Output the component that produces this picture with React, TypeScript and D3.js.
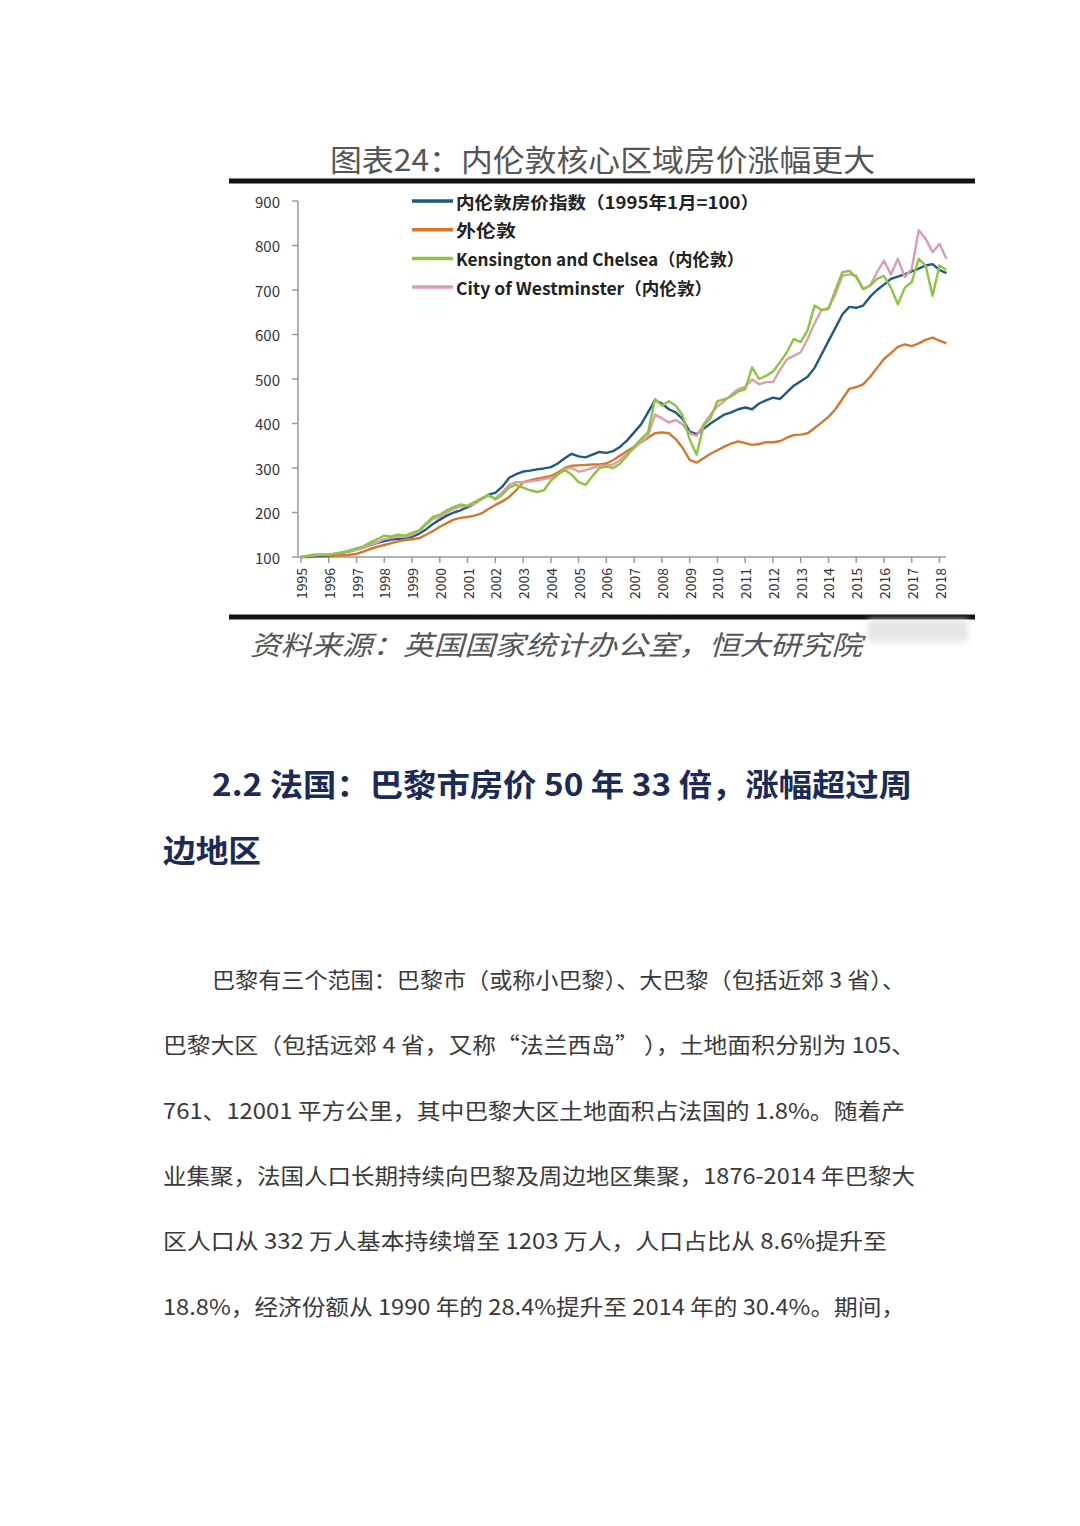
import React from "react";
import * as d3 from "d3";

// ---------- DATA ----------
const years = d3.range(1995, 2019);
const yTicks = [100, 200, 300, 400, 500, 600, 700, 800, 900];
const quarterStart = 1995;
// quarterly readings 1995Q1 ... 2018Q2
const innerLondon = [
  100, 101, 102, 103,
  104, 107, 110, 113,
  117, 122, 127, 132,
  136, 139, 141, 143,
  146, 152, 162, 174,
  184, 193, 200, 205,
  212, 220, 230, 240,
  244, 258, 278, 286,
  292, 294, 297, 299,
  302, 310, 322, 332,
  326, 324, 330, 336,
  334, 338, 348, 362,
  380, 398, 425, 452,
  445, 432, 425, 410,
  382, 376, 388, 400,
  410, 420, 425, 432,
  436, 432, 445, 452,
  458, 455, 470, 485,
  495, 505, 525, 555,
  585, 615, 645, 662,
  660, 665, 685, 700,
  712, 725, 730, 735,
  742, 748, 755, 758,
  745, 738,
];
const outerLondon = [
  100, 100, 101, 101,
  102, 103, 104, 105,
  107, 112, 118, 123,
  127, 131, 135, 138,
  140, 142, 150, 158,
  168, 176, 184, 188,
  190, 193, 198, 208,
  217, 225, 235, 250,
  268, 272, 276, 279,
  282, 290, 300, 305,
  306, 307, 308, 308,
  310, 318, 328, 338,
  348, 358, 368, 378,
  380, 378, 365, 345,
  318, 312, 322, 332,
  340, 348, 355, 360,
  356, 352, 354, 358,
  358, 360, 368, 374,
  375, 378, 390, 402,
  415, 432, 455, 478,
  482, 488, 505, 525,
  545, 558, 572, 578,
  574, 580, 588, 593,
  586, 580,
];
const kensington = [
  100, 103, 106, 106,
  105, 108, 110, 115,
  120, 124, 133, 140,
  148, 146, 150, 148,
  154, 160, 175, 190,
  195, 205, 212, 218,
  215, 224, 232, 240,
  229, 240, 256, 262,
  256, 250, 246, 250,
  272, 285, 296, 285,
  268, 262, 282, 300,
  303, 300, 310, 328,
  348, 365, 380, 455,
  440, 450, 440, 418,
  364, 330, 395, 412,
  450, 455, 461, 472,
  477, 526, 500, 507,
  517, 537, 560, 590,
  583, 610, 665, 655,
  657, 700, 740, 743,
  729, 702, 710, 725,
  732, 705, 668, 705,
  718, 770, 755, 687,
  755, 745,
];
const westminster = [
  100, 102, 104, 105,
  105, 107, 110, 113,
  116, 120, 127, 133,
  140, 143, 146, 145,
  150, 158, 172, 185,
  190, 200, 208, 213,
  215, 220, 230, 238,
  232, 245, 262, 268,
  268, 270, 272, 275,
  278, 285, 298, 300,
  292, 295, 300, 305,
  305, 308, 318, 332,
  345, 358, 372, 420,
  412, 402, 408, 398,
  378, 372, 398, 420,
  439, 450, 465, 477,
  482, 499, 488, 493,
  493, 520, 544, 552,
  560, 590, 625, 655,
  660, 690, 732, 735,
  732, 702, 710, 740,
  766, 735, 770, 729,
  747, 834, 815, 785,
  804, 770,
];
const seriesNames = [
  "内伦敦房价指数（1995年1月=100）",
  "外伦敦",
  "Kensington and Chelsea（内伦敦）",
  "City of Westminster（内伦敦）",
];
const legendWidths = [303, 60, 288, 256];
const seriesColors = ["#1d5a86", "#d8772c", "#8cc540", "#dc9eab"];

const titleText = "图表24：内伦敦核心区域房价涨幅更大";
const sourceText = "资料来源：英国国家统计办公室，恒大研究院";
const headingLine1 = "2.2  法国：巴黎市房价 50 年 33 倍，涨幅超过周";
const headingLine2 = "边地区";
const paragraphLines = [
  "巴黎有三个范围：巴黎市（或称小巴黎）、大巴黎（包括近郊 3 省）、",
  "巴黎大区（包括远郊 4 省，又称“法兰西岛” ），土地面积分别为 105、",
  "761、12001 平方公里，其中巴黎大区土地面积占法国的 1.8%。随着产",
  "业集聚，法国人口长期持续向巴黎及周边地区集聚，1876-2014 年巴黎大",
  "区人口从 332 万人基本持续增至 1203 万人，人口占比从 8.6%提升至",
  "18.8%，经济份额从 1990 年的 28.4%提升至 2014 年的 30.4%。期间，",
];
const paragraphWidths = [693, 752, 742, 752, 724, 742];

export default function App() {
  const W = 1080;
  const H = 1526;
  const x = d3.scaleLinear().domain([1995, 2018]).range([301, 939.5]);
  const y = d3.scaleLinear().domain([100, 900]).range([557, 201]);
  const allSeries = [innerLondon, outerLondon, kensington, westminster];
  const line = d3
    .line<number>()
    .x((_, i) => x(quarterStart + i * 0.25))
    .y((d) => y(d))
    .curve(d3.curveLinear);
  const sans = "'Noto Sans CJK SC', 'Noto Sans', sans-serif";
  const drawOrder = [1, 0, 3, 2];

  return (
    <div style={{ position: "absolute", left: 0, top: 0 }}>
      <svg width={W} height={H} style={{ display: "block", background: "#fff" }}>
        <defs>
          <filter id="blur" x="-20%" y="-50%" width="140%" height="200%">
            <feGaussianBlur stdDeviation="3" />
          </filter>
        </defs>
        <rect x={0} y={0} width={W} height={H} fill="#fff" />
        {/* title */}
        <text
          x={330}
          y={171}
          fontFamily={sans}
          fontSize={30}
          fill="#555"
          textLength={545}
          lengthAdjust="spacingAndGlyphs"
        >
          {titleText}
        </text>
        <rect x={229} y={178.5} width={746} height={5} fill="#111" />

        {/* axes */}
        <line x1={298} x2={298} y1={y(900)} y2={y(100)} stroke="#9a9a9a" strokeWidth={1.5} />
        <line x1={298} x2={946} y1={y(100)} y2={y(100)} stroke="#9a9a9a" strokeWidth={1.5} />
        {yTicks.map((t) => (
          <g key={t}>
            <line x1={292} x2={298} y1={y(t)} y2={y(t)} stroke="#9a9a9a" strokeWidth={1.5} />
            <text
              x={280}
              y={y(t)}
              textAnchor="end"
              dominantBaseline="central"
              fontFamily={sans}
              fontSize={15}
              fill="#333"
            >
              {t}
            </text>
          </g>
        ))}
        {years.map((yr) => (
          <g key={yr}>
            <line x1={x(yr)} x2={x(yr)} y1={557} y2={563} stroke="#9a9a9a" strokeWidth={1.5} />
            <text
              transform={`translate(${x(yr)},568) rotate(-90)`}
              textAnchor="end"
              dominantBaseline="central"
              fontFamily={sans}
              fontSize={14}
              fill="#333"
            >
              {yr}
            </text>
          </g>
        ))}

        {/* lines */}
        {drawOrder.map((k) => (
          <path
            key={k}
            d={line(allSeries[k]) || ""}
            fill="none"
            stroke={seriesColors[k]}
            strokeWidth={2.4}
            strokeLinejoin="round"
          />
        ))}

        {/* legend */}
        {seriesNames.map((n, i) => (
          <g key={n} transform={`translate(0,${201 + i * 28.7})`}>
            <line x1={412} x2={453} y1={0} y2={0} stroke={seriesColors[i]} strokeWidth={3.5} />
            <text
              x={456}
              y={0}
              dominantBaseline="central"
              fontFamily={sans}
              fontWeight="bold"
              fontSize={17}
              fill="#222"
              textLength={legendWidths[i]}
              lengthAdjust="spacingAndGlyphs"
            >
              {n}
            </text>
          </g>
        ))}

        {/* bottom rule & source */}
        <rect x={229} y={614.5} width={746} height={5} fill="#111" />
        <text
          x={250}
          y={655}
          fontFamily={sans}
          fontStyle="italic"
          fontSize={27}
          fill="#555"
          textLength={612}
          lengthAdjust="spacingAndGlyphs"
        >
          {sourceText}
        </text>
        <rect x={868} y={620} width={100} height={22} fill="#e6e6e6" filter="url(#blur)" />

        {/* heading */}
        <text
          x={212}
          y={796}
          fontFamily={sans}
          fontWeight="bold"
          fontSize={31}
          fill="#1b2a58"
          textLength={700}
          lengthAdjust="spacingAndGlyphs"
        >
          {headingLine1}
        </text>
        <text
          x={163}
          y={862}
          fontFamily={sans}
          fontWeight="bold"
          fontSize={31}
          fill="#1b2a58"
          textLength={98}
          lengthAdjust="spacingAndGlyphs"
        >
          {headingLine2}
        </text>

        {/* paragraph */}
        {paragraphLines.map((t, i) => (
          <text
            key={i}
            x={i === 0 ? 212 : 163}
            y={988 + i * 65.3}
            fontFamily={sans}
            fontSize={22}
            fill="#3a3a3a"
            textLength={paragraphWidths[i]}
            lengthAdjust="spacingAndGlyphs"
          >
            {t}
          </text>
        ))}
      </svg>
    </div>
  );
}
